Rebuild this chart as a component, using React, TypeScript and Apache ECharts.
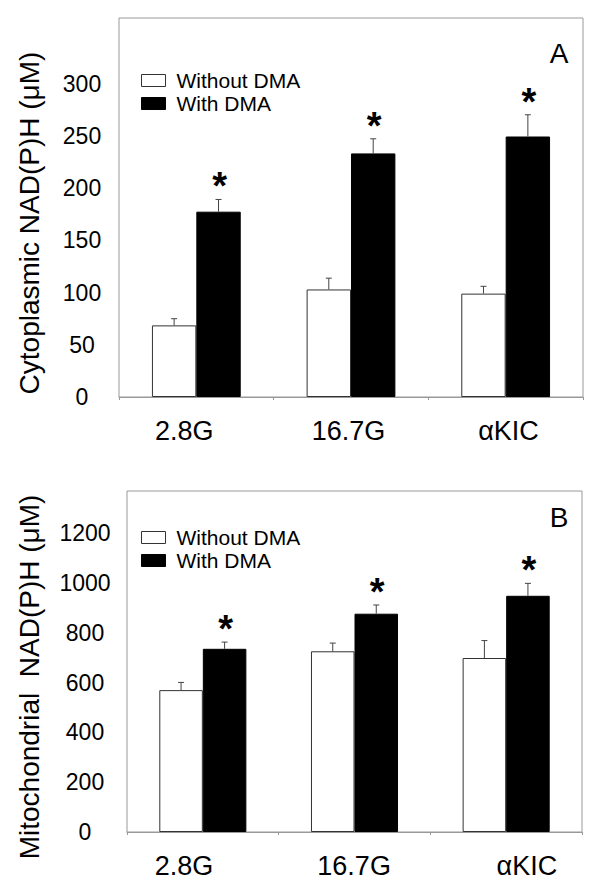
import React, { useEffect, useRef } from "react";
import * as echarts from "echarts";

const categories = ["2.8G", "16.7G", "αKIC"];
const seriesNames = ["Without DMA", "With DMA"];

const cytoWithout = [68.6, 103, 99];
const cytoWithoutErr = [6.4, 10.8, 7];
const cytoWith = [177.5, 233.3, 249.5];
const cytoWithErr = [11.7, 14, 20.8];

const mitoWithout = [570, 726, 699];
const mitoWithoutErr = [31, 33, 70];
const mitoWith = [736, 877, 949];
const mitoWithErr = [27, 35, 50];

const significant = [true, true, true];

const cytoTicksShown = 300;
const mitoTicksShown = 1200;

const FONT = "Liberation Sans";
const BAR_RATIO = 0.287;

function errorSeries(name: string, xi: number, vals: number[], errs: number[], side: number, stars: boolean) {
  return {
    name: name + " err",
    type: "custom",
    xAxisIndex: xi,
    yAxisIndex: xi,
    z: 5,
    silent: true,
    data: vals.map((v, i) => [i, v, errs[i], stars && significant[i] ? 1 : 0]),
    renderItem: (params: any, api: any) => {
      const ci = api.value(0);
      const v = api.value(1);
      const e = api.value(2);
      const star = api.value(3);
      const base = api.coord([ci, v]);
      const top = api.coord([ci, v + e]);
      const bw = api.size([1, 0])[0] * BAR_RATIO;
      const x = base[0] + (side * bw) / 2;
      const children: any[] = [
        { type: "line", shape: { x1: x, y1: base[1], x2: x, y2: top[1] }, style: { stroke: "#444", lineWidth: 1 } },
        { type: "line", shape: { x1: x - 3, y1: top[1], x2: x + 3, y2: top[1] }, style: { stroke: "#444", lineWidth: 1 } },
      ];
      if (star) {
        children.push({
          type: "text",
          x: x + 1,
          y: top[1] - 13,
          style: { text: "*", fontSize: 38, fontWeight: "bold", fontFamily: FONT, fill: "#000", align: "center", verticalAlign: "middle" },
        });
      }
      return { type: "group", children };
    },
  };
}

function barSeries(name: string, xi: number, vals: number[], black: boolean) {
  return {
    name,
    type: "bar",
    xAxisIndex: xi,
    yAxisIndex: xi,
    barWidth: BAR_RATIO * 100 + "%",
    barGap: "0%",
    data: vals,
    itemStyle: black
      ? { color: "#000", borderColor: "#000", borderWidth: 1 }
      : { color: "#fff", borderColor: "#333", borderWidth: 1 },
  };
}

function xAxisDef(gi: number, shifts: number[]) {
  return {
    type: "category",
    gridIndex: gi,
    data: categories,
    axisLine: { lineStyle: { color: "#999", width: 1 } },
    axisTick: { show: true, length: 3, lineStyle: { color: "#999" } },
    axisLabel: {
      interval: 0,
      margin: 20,
      fontSize: 27,
      fontFamily: FONT,
      color: "#000",
      formatter: (val: string, idx: number) => `{c${idx}|${val}}`,
      rich: Object.fromEntries(
        shifts.map((s, i) => [
          `c${i}`,
          {
            fontSize: 27,
            fontFamily: FONT,
            color: "#000",
            padding: s < 0 ? [0, -2 * s, 0, 0] : [0, 0, 0, 2 * s],
          },
        ])
      ),
    },
  };
}

function yAxisDef(gi: number, max: number, interval: number, shown: number, margin: number, shiftDown: number) {
  return {
    type: "value",
    gridIndex: gi,
    min: 0,
    max,
    interval,
    axisLine: { show: false },
    axisTick: { show: false },
    splitLine: { show: false },
    axisLabel: {
      fontSize: 23,
      fontFamily: FONT,
      color: "#000",
      align: "center",
      margin,
      padding: [shiftDown * 2, 0, 0, 0],
      formatter: (v: number) => (v <= shown ? String(v) : ""),
    },
  };
}

function legendDef(top: number) {
  return {
    orient: "vertical",
    left: 141,
    top,
    padding: 0,
    itemWidth: 24,
    itemHeight: 12,
    itemGap: 2,
    selectedMode: false,
    textStyle: { fontSize: 21, fontFamily: FONT, color: "#000", lineHeight: 21, padding: [0, 0, 0, 6] },
    data: [
      { name: seriesNames[0], icon: "rect", itemStyle: { color: "#fff", borderColor: "#333", borderWidth: 1 } },
      { name: seriesNames[1], icon: "rect", itemStyle: { color: "#000", borderColor: "#000", borderWidth: 1 } },
    ],
  };
}

export default function App() {
  const ref = useRef<HTMLDivElement>(null);
  useEffect(() => {
    if (!ref.current) return;
    const chart = echarts.init(ref.current, null, { renderer: "svg" });
    const option: any = {
      animation: false,
      backgroundColor: "#fff",
      textStyle: { fontFamily: FONT },
      grid: [
        { left: 119, top: 18, width: 464, height: 379, show: true, borderColor: "#999", borderWidth: 1, backgroundColor: "#fff" },
        { left: 127, top: 491, width: 455, height: 341, show: true, borderColor: "#999", borderWidth: 1, backgroundColor: "#fff" },
      ],
      xAxis: [xAxisDef(0, [-12, -2.6, 2.8]), xAxisDef(1, [-18.8, -0.4, 20.7])],
      yAxis: [yAxisDef(0, 363, 50, cytoTicksShown, 37, 1.6), yAxisDef(1, 1370, 200, mitoTicksShown, 42, 5.7)],
      legend: [legendDef(70), legendDef(527)],
      graphic: [
        { type: "text", x: 29, y: 223, rotation: Math.PI / 2, style: { text: "Cytoplasmic NAD(P)H (μM)", fontSize: 28, fontFamily: FONT, fill: "#000", align: "center", verticalAlign: "middle" } },
        { type: "text", x: 29, y: 677, rotation: Math.PI / 2, style: { text: "Mitochondrial  NAD(P)H (μM)", fontSize: 28, fontFamily: FONT, fill: "#000", align: "center", verticalAlign: "middle" } },
        { type: "text", x: 559, y: 53, style: { text: "A", fontSize: 28, fontFamily: FONT, fill: "#000", align: "center", verticalAlign: "middle" } },
        { type: "text", x: 559, y: 517, style: { text: "B", fontSize: 28, fontFamily: FONT, fill: "#000", align: "center", verticalAlign: "middle" } },
      ],
      series: [
        barSeries(seriesNames[0], 0, cytoWithout, false),
        barSeries(seriesNames[1], 0, cytoWith, true),
        errorSeries(seriesNames[0], 0, cytoWithout, cytoWithoutErr, -1, false),
        errorSeries(seriesNames[1], 0, cytoWith, cytoWithErr, 1, true),
        barSeries(seriesNames[0], 1, mitoWithout, false),
        barSeries(seriesNames[1], 1, mitoWith, true),
        errorSeries(seriesNames[0], 1, mitoWithout, mitoWithoutErr, -1, false),
        errorSeries(seriesNames[1], 1, mitoWith, mitoWithErr, 1, true),
      ],
    };
    chart.setOption(option);
    return () => chart.dispose();
  }, []);
  return <div ref={ref} style={{ position: "absolute", left: 0, top: 0, width: 600, height: 886 }} />;
}
